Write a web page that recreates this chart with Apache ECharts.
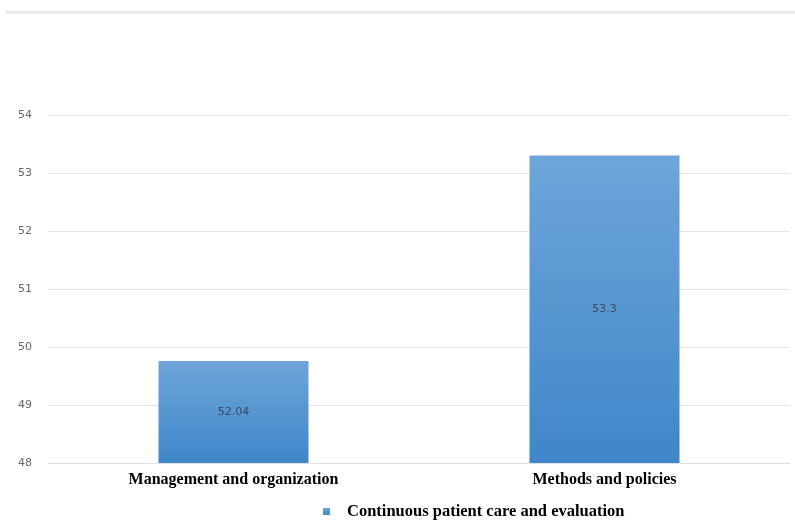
<!DOCTYPE html>
<html>
<head>
<meta charset="utf-8">
<script src="https://cdn.jsdelivr.net/npm/echarts@6/dist/echarts.min.js"></script>
<style>
  html, body { margin: 0; padding: 0; background: #fff; }
  #main { width: 795px; height: 520px; }
</style>
</head>
<body>
<div id="main"></div>
<script>
// data
const categories = ['Management and organization', 'Methods and policies']
const barValues = [49.76, 53.3]
const barLabels = ['52.04', '53.3']
const seriesName = 'Continuous patient care and evaluation'

const myChart = echarts.init(document.getElementById('main'))

const option = {
  animation: false,
  backgroundColor: '#fff',
  graphic: [
    {
      type: 'rect',
      shape: { x: 5, y: 11, width: 790, height: 3 },
      style: { fill: '#ebebeb' }
    }
  ],
  grid: {
    left: 48,
    right: 5,
    top: 115,
    bottom: 57,
    containLabel: false
  },
  legend: {
    data: [seriesName],
    left: 318,
    top: 498,
    itemWidth: 7,
    itemHeight: 7,
    icon: 'rect',
    textStyle: {
      fontFamily: 'Liberation Serif',
      fontWeight: 'bold',
      fontSize: 16.5,
      color: '#000',
      padding: [0, 0, 0, 12]
    }
  },
  xAxis: {
    type: 'category',
    data: categories,
    axisLine: { show: true, lineStyle: { color: '#e0e0e0' } },
    axisTick: { show: false },
    axisLabel: {
      fontFamily: 'Liberation Serif',
      fontWeight: 'bold',
      fontSize: 16,
      color: '#000',
      margin: 9
    }
  },
  yAxis: {
    type: 'value',
    min: 48,
    max: 54,
    interval: 1,
    axisLine: { show: false },
    axisTick: { show: false },
    splitLine: { lineStyle: { color: '#e3e3e3', width: 1 } },
    axisLabel: {
      fontFamily: 'DejaVu Sans',
      fontSize: 11,
      color: '#666',
      margin: 16
    }
  },
  series: [
    {
      name: seriesName,
      type: 'bar',
      barWidth: 150,
      data: barValues,
      itemStyle: {
        color: new echarts.graphic.LinearGradient(0, 0, 0, 1, [
          { offset: 0, color: '#6ea5da' },
          { offset: 1, color: '#3f87c9' }
        ])
      },
      label: {
        show: true,
        position: 'inside',
        fontFamily: 'DejaVu Sans',
        fontSize: 11,
        color: '#3f4a5a',
        formatter: function (p) {
          return barLabels[p.dataIndex]
        }
      }
    }
  ],
  color: ['#4a8fd0']
}

myChart.setOption(option)
</script>
</body>
</html>
